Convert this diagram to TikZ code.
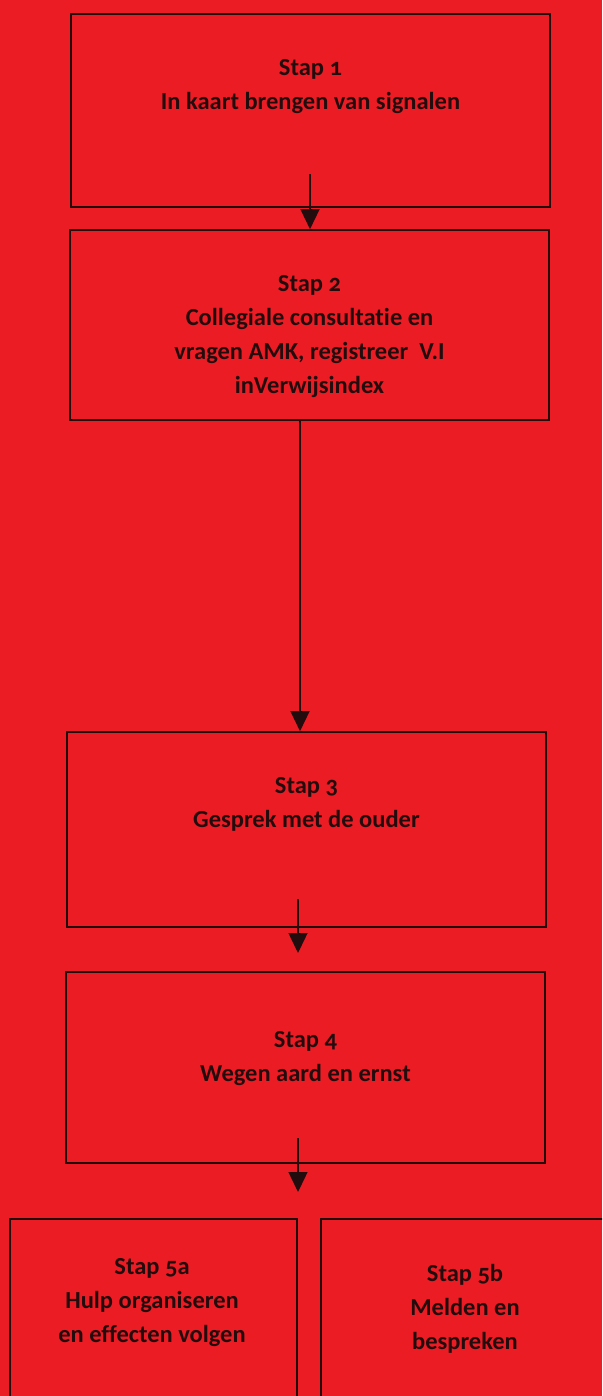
\documentclass[tikz,border=0pt]{standalone}
\usepackage{fontspec}
\setmainfont{Carlito}[Numbers=OldStyle, Ligatures=NoCommon]
\usetikzlibrary{arrows.meta}
\definecolor{stapred}{RGB}{236,28,36}
\definecolor{stapink}{RGB}{35,12,14}
\tikzset{
  stapbox/.style={draw=stapink, line width=1.6pt, inner sep=0pt},
  staptext/.style={text=stapink, font=\fontsize{24.5}{34}\selectfont\bfseries, align=center, inner sep=0pt},
  pijl/.style={draw=stapink, line width=1.4pt, -{Triangle[width=19pt,length=20pt]}}
}
\begin{document}
\begin{tikzpicture}[x=1pt,y=-1pt]
\fill[stapred] (0,0) rectangle (602,1396);
\clip (0,0) rectangle (602,1396);
% boxes
\node[stapbox, minimum width=479pt, minimum height=193pt] (stap1) at (310.5,110.5) {};
\node[stapbox, minimum width=479pt, minimum height=190pt] (stap2) at (309.5,325) {};
\node[stapbox, minimum width=479pt, minimum height=195pt] (stap3) at (306.5,829.5) {};
\node[stapbox, minimum width=479pt, minimum height=191pt] (stap4) at (305.5,1067.5) {};
\node[stapbox, minimum width=287pt, minimum height=201pt] (stap5a) at (153.5,1319.5) {};
\node[stapbox, minimum width=289pt, minimum height=201pt] (stap5b) at (465.5,1319.5) {};
% texts
\node[staptext] (tekst1) at (310.5,86.5) {Stap 1\\In kaart brengen van signalen};
\node[staptext] (tekst2) at (309.5,336.5) {Stap 2\\Collegiale consultatie en\\vragen AMK, registreer\ \ V.I\\inVerwijsindex};
\node[staptext] (tekst3) at (306.5,804) {Stap 3\\Gesprek met de ouder};
\node[staptext] (tekst4) at (305.5,1059) {Stap 4\\Wegen aard en ernst};
\node[staptext] (tekst5a) at (152,1302.5) {Stap 5a\\Hulp organiseren\\en effecten volgen};
\node[staptext] (tekst5b) at (465,1309) {Stap 5b\\Melden en\\bespreken};
% arrows
\coordinate (p1) at (310,174);
\coordinate (p2) at (300,420);
\coordinate (p3) at (298,899);
\coordinate (q3) at (298,953);
\coordinate (p4) at (298,1138);
\coordinate (q4) at (298,1192);
\draw[pijl] (p1) -- (p1 |- stap2.north);
\draw[pijl] (p2) -- (p2 |- stap3.north);
\draw[pijl] (p3) -- (q3);
\draw[pijl] (p4) -- (q4);
\end{tikzpicture}
\end{document}
